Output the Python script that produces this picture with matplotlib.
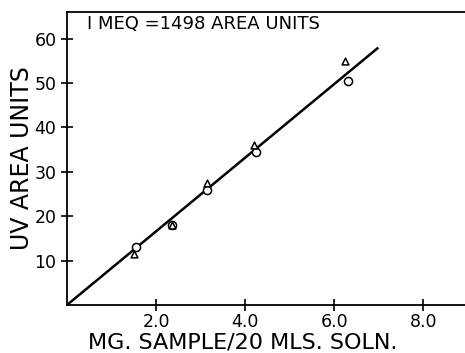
import matplotlib
matplotlib.use("Agg")
import matplotlib.pyplot as plt

# data
circle_x = [1.55, 2.35, 3.15, 4.25, 6.3]
circle_y = [13.0, 18.0, 26.0, 34.5, 50.5]
tri_x = [1.5, 2.35, 3.15, 4.2, 6.25]
tri_y = [11.5, 18.0, 27.5, 36.0, 55.0]
line_x = [0.0, 6.97]
line_y = [0.0, 57.8]

xticks = [2.0, 4.0, 6.0, 8.0]
yticks = [10, 20, 30, 40, 50, 60]

fig = plt.figure(figsize=(4.65, 3.53), dpi=100)
ax = fig.add_axes([0.144, 0.136, 0.86, 0.83])

ax.plot(line_x, line_y, color='black', linewidth=1.8)
ax.scatter(circle_x, circle_y, marker='o', s=34, facecolors='white', edgecolors='black', linewidths=1.1, zorder=3)
ax.scatter(tri_x, tri_y, marker='^', s=24, facecolors='white', edgecolors='black', linewidths=1.1, zorder=3)

ax.set_xlim(0, 8.98)
ax.set_ylim(0, 66)
ax.set_xticks(xticks)
ax.set_xticklabels(['%.1f' % v for v in xticks])
ax.set_yticks(yticks)
ax.tick_params(direction='inout', length=8, width=1.2, labelsize=12.5)
ax.tick_params(axis='x', pad=2)
for s in ax.spines.values():
    s.set_linewidth(1.3)
ax.spines['right'].set_visible(False)

ax.set_xlabel('MG. SAMPLE/20 MLS. SOLN.', fontsize=16)
ax.xaxis.set_label_coords(0.44, -0.093)
ax.set_ylabel('UV AREA UNITS', fontsize=17, labelpad=0)
ax.text(0.45, 63.2, 'I MEQ =1498 AREA UNITS', fontsize=13, va='center')

fig.savefig('out.png', dpi=100)
